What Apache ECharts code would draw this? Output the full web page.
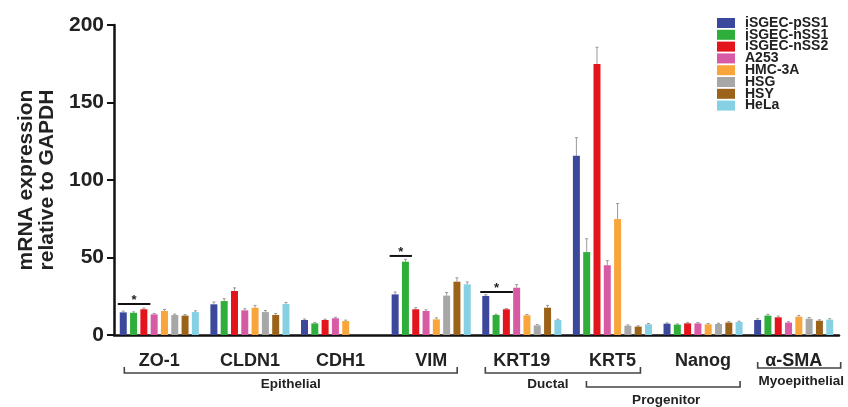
<!DOCTYPE html>
<html>
<head>
<meta charset="utf-8">
<script src="https://cdn.jsdelivr.net/npm/echarts@6/dist/echarts.min.js"></script>
<style>
html,body{margin:0;padding:0;background:#fff;}
#c{width:848px;height:407px;}
</style>
</head>
<body>
<div id="c"></div>
<script>
const categories = ['ZO-1', 'CLDN1', 'CDH1', 'VIM', 'KRT19', 'KRT5', 'Nanog', 'α-SMA'];
const seriesNames = ['iSGEC-pSS1', 'iSGEC-nSS1', 'iSGEC-nSS2', 'A253', 'HMC-3A', 'HSG', 'HSY', 'HeLa'];
const colors = ['#3b489c', '#2fae3b', '#e3141c', '#d75aa4', '#f8a53c', '#a7a7a7', '#9b631a', '#86d0e4'];

const pSS1  = [14.6, 19.8, 9.7, 26.2, 25.2, 115.7, 7.3, 9.7];
const nSS1  = [14.3, 21.9, 7.5, 47.3, 12.9, 53.5, 6.7, 12.5];
const nSS2  = [16.6, 28.4, 9.7, 16.6, 16.6, 174.8, 7.5, 11.4];
const a253  = [13.3, 15.9, 10.8, 15.5, 30.5, 45.0, 7.5, 8.0];
const hmc3a = [15.5, 17.6, 9.0, 10.1, 12.7, 74.8, 6.9, 11.8];
const hsg   = [12.9, 14.8, null, 25.4, 6.2, 6.0, 7.1, 10.5];
const hsy   = [12.5, 12.9, null, 34.4, 17.6, 5.4, 8.0, 9.2];
const hela  = [14.8, 20.0, null, 32.7, 9.7, 6.9, 8.4, 9.9];

const err_pSS1  = [0.8, 1.5, 0.6, 1.5, 0.8, 11.6, 0.5, 0.8];
const err_nSS1  = [0.6, 1.5, 0.6, 1.5, 0.5, 8.6, 0.5, 0.8];
const err_nSS2  = [0.8, 2.0, 0.5, 1.0, 0.5, 10.8, 0.5, 0.8];
const err_a253  = [0.6, 1.0, 0.6, 0.8, 2.0, 3.0, 0.5, 0.6];
const err_hmc3a = [1.0, 1.5, 0.6, 1.0, 0.6, 10.0, 0.5, 0.8];
const err_hsg   = [0.6, 1.0, null, 2.0, 0.5, 0.5, 0.5, 0.8];
const err_hsy   = [0.6, 1.0, null, 2.5, 1.5, 0.5, 0.6, 0.6];
const err_hela  = [0.8, 1.0, null, 1.5, 0.5, 0.5, 0.5, 0.6];

const yTicks = [0, 50, 100, 150, 200];

// significance: [category index, y value, first series, last series]
const sigMarks = [[0, 20, 0, 2], [3, 51, 0, 1], [4, 27.7, 0, 2]];

// bracket groups
const groupLabels = ['Epithelial', 'Ductal', 'Progenitor', 'Myoepithelial'];
const groupFrom = [0, 4, 5, 7];
const groupTo = [3, 5, 6, 7];

const values = [pSS1, nSS1, nSS2, a253, hmc3a, hsg, hsy, hela];
const errors = [err_pSS1, err_nSS1, err_nSS2, err_a253, err_hmc3a, err_hsg, err_hsy, err_hela];

const BAR_W = 7;
const GAP = 3.3;
const GROUP_W = 8 * BAR_W + 7 * GAP;
function barOffset(i) { return -GROUP_W / 2 + BAR_W / 2 + i * (BAR_W + GAP); }

const FONT = '"Liberation Sans", Arial, Helvetica, sans-serif';

const errData = [];
values.forEach((arr, si) => arr.forEach((v, ci) => {
  if (v != null && errors[si][ci] != null) errData.push([ci, v, errors[si][ci], si]);
}));

const series = seriesNames.map((n, i) => ({
  name: n, type: 'bar', data: values[i], barWidth: BAR_W, barGap: (GAP / BAR_W * 100) + '%',
  itemStyle: { color: colors[i] }, z: 2
}));

series.push({
  type: 'custom', name: 'err', data: errData, z: 1, silent: true,
  renderItem: function (params, api) {
    const ci = api.value(0), v = api.value(1), e = api.value(2), si = api.value(3);
    const base = api.coord([ci, v]);
    const top = api.coord([ci, v + e]);
    const x = base[0] + barOffset(si);
    return { type: 'group', children: [
      { type: 'line', shape: { x1: x, y1: base[1], x2: x, y2: top[1] }, style: { stroke: '#999', lineWidth: 1 } },
      { type: 'line', shape: { x1: x - 1.5, y1: top[1], x2: x + 1.5, y2: top[1] }, style: { stroke: '#999', lineWidth: 1 } }
    ]};
  }
});

series.push({
  type: 'custom', name: 'sig', data: sigMarks, z: 3, silent: true,
  renderItem: function (params, api) {
    const ci = api.value(0), y = api.value(1), a = api.value(2), b = api.value(3);
    const p = api.coord([ci, y]);
    const x1 = p[0] + barOffset(a) - BAR_W / 2 - 2;
    const x2 = p[0] + barOffset(b) + BAR_W / 2 + 3;
    return { type: 'group', children: [
      { type: 'line', shape: { x1: x1, y1: p[1], x2: x2, y2: p[1] }, style: { stroke: '#111', lineWidth: 2 } },
      { type: 'text', style: { text: '*', x: (x1 + x2) / 2, y: p[1] + 3, textAlign: 'center', textVerticalAlign: 'bottom', font: 'bold 13px ' + FONT, fill: '#222' } }
    ]};
  }
});

const chart = echarts.init(document.getElementById('c'), null, { renderer: 'canvas' });
chart.setOption({
  animation: false,
  backgroundColor: '#fff',
  grid: { left: 114, right: 9, top: 25, bottom: 72 },
  legend: {
    data: seriesNames, orient: 'vertical', left: 712, top: 11,
    itemWidth: 18, itemHeight: 10, itemGap: -2.2, icon: 'rect',
    textStyle: { fontFamily: FONT, fontWeight: 'bold', fontSize: 14, color: '#222', padding: [0, 0, 0, 5] }
  },
  xAxis: {
    type: 'category', data: categories,
    axisLine: { lineStyle: { color: '#111', width: 2.5 } },
    axisTick: { alignWithLabel: true, length: 10, lineStyle: { color: '#111', width: 2.5 } },
    axisLabel: { fontFamily: FONT, fontWeight: 'bold', fontSize: 18, color: '#222', margin: 17 }
  },
  yAxis: {
    type: 'value', min: yTicks[0], max: yTicks[yTicks.length - 1], interval: yTicks[1] - yTicks[0],
    name: 'mRNA expression\nrelative to GAPDH', nameLocation: 'middle', nameGap: 54, nameRotate: 90,
    nameTextStyle: { fontFamily: FONT, fontWeight: 'bold', fontSize: 21, color: '#222', lineHeight: 21 },
    axisLine: { show: true, lineStyle: { color: '#111', width: 2.5 } },
    axisTick: { show: true, length: 7, lineStyle: { color: '#111', width: 2 } },
    axisLabel: { fontFamily: FONT, fontWeight: 'bold', fontSize: 21, color: '#222', margin: 10 },
    splitLine: { show: false }
  },
  series: series
});

// brackets under category labels
const cx = i => chart.convertToPixel({ xAxisIndex: 0 }, i);
const bracketSpecs = [
  { l: cx(groupFrom[0]) - 35, r: cx(groupTo[0]) + 26, y: 373, ly: 384, lx: null },
  { l: cx(groupFrom[1]) - 36.5, r: cx(groupTo[1]) + 28, y: 373, ly: 384, lx: -15 },
  { l: cx(groupFrom[2]) - 26, r: cx(groupTo[2]) + 37, y: 387, ly: 400, lx: 3 },
  { l: cx(groupFrom[3]) - 36, r: cx(groupTo[3]) + 47, y: 368, ly: 381, lx: 2 }
];
const graphics = [];
bracketSpecs.forEach((b, i) => {
  graphics.push({
    type: 'polyline', silent: true,
    shape: { points: [[b.l, b.y - 6], [b.l, b.y], [b.r, b.y], [b.r, b.y - 6]] },
    style: { stroke: '#444', lineWidth: 1.6, fill: null }
  });
  const mid = (b.l + b.r) / 2 + (b.lx || 0);
  graphics.push({
    type: 'text', silent: true, x: mid, y: b.ly,
    style: { text: groupLabels[i], textAlign: 'center', textVerticalAlign: 'middle', font: 'bold 13.5px ' + FONT, fill: '#222' }
  });
});
chart.setOption({ graphic: graphics });
</script>
</body>
</html>
